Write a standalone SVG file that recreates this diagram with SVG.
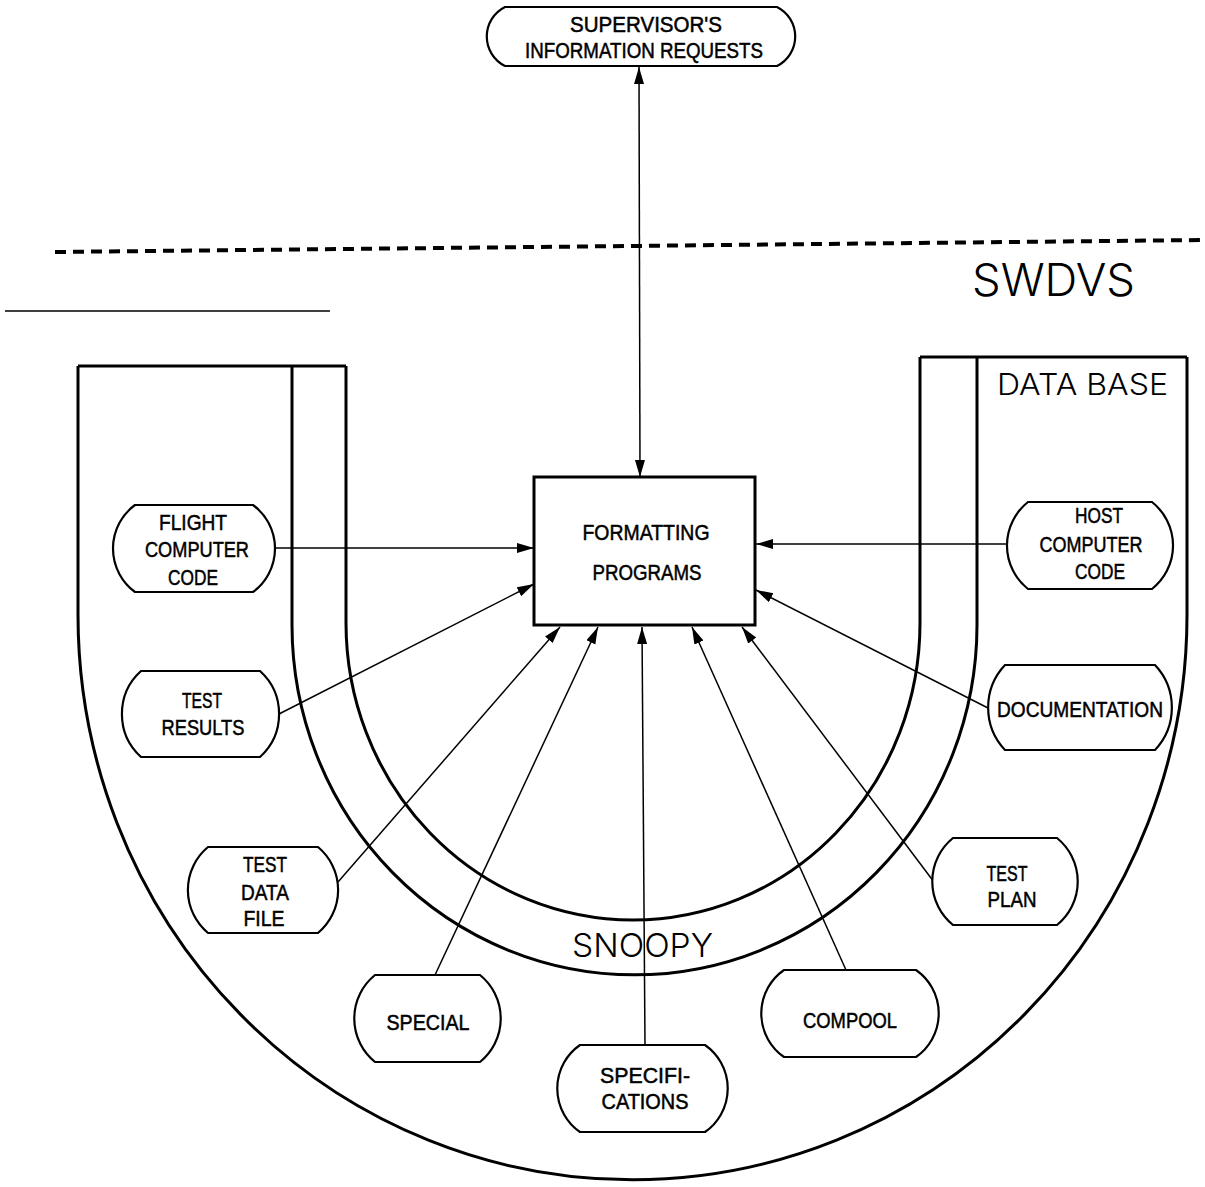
<svg xmlns="http://www.w3.org/2000/svg" width="1205" height="1187" viewBox="0 0 1205 1187">
  <defs>
    <marker id="arrow" markerUnits="userSpaceOnUse" markerWidth="18" markerHeight="11" refX="17" refY="5" orient="auto-start-reverse">
      <path d="M0,0 L17,5 L0,10 Z" fill="#000"/>
    </marker>
    <style>
      .bg { fill: #fff; }
      .node { fill: #fff; stroke: #000; stroke-width: 2.2; }
      .box { fill: #fff; stroke: #000; stroke-width: 3; }
      .band { fill: none; stroke: #000; stroke-width: 3; }
      .link { fill: none; stroke: #000; stroke-width: 1.5; marker-end: url(#arrow); }
      .lbl { font-family: "Liberation Sans", Arial, sans-serif; font-size: 21.5px; fill: #000; stroke: #000; stroke-width: 0.5; text-anchor: middle; }
      .big { font-family: Inter, "Liberation Sans", Arial, sans-serif; font-weight: 300; fill: #000; }
    </style>
  </defs>

  <rect class="bg" x="0" y="0" width="1205" height="1187"/>

  <!-- boundary between supervisor side and SWDVS -->
  <line x1="55" y1="252" x2="1205" y2="240" stroke="#000" stroke-width="4" stroke-dasharray="11 7"/>
  <line x1="5" y1="311" x2="330" y2="311" stroke="#000" stroke-width="1.5"/>
  <text class="big" x="972" y="296" font-size="45" textLength="163" lengthAdjust="spacingAndGlyphs">SWDVS</text>

  <!-- data base and SNOOPY bands -->
  <g id="database-band">
    <path class="band" d="M78,366 V615 A554.5,565 0 0 0 1187,615 V357"/>
    <path class="band" d="M78,366 H346"/>
    <path class="band" d="M920,357 H1187"/>
    <text class="big" x="997" y="395" font-size="30" textLength="171" lengthAdjust="spacingAndGlyphs">DATA BASE</text>
  </g>
  <g id="snoopy-band">
    <path class="band" d="M292,366 V625 A342.5,350 0 0 0 977,625 V357"/>
    <path class="band" d="M346,366 V623 A287,297 0 0 0 920,623 V357"/>
    <text class="big" x="572" y="957" font-size="33" textLength="141" lengthAdjust="spacingAndGlyphs">SNOOPY</text>
  </g>

  <!-- connectors -->
  <g id="connectors">
    <line class="link" x1="639" y1="67" x2="640" y2="477" marker-start="url(#arrow)"/>
    <line class="link" x1="275" y1="548" x2="534" y2="548"/>
    <line class="link" x1="279" y1="714" x2="534" y2="584"/>
    <line class="link" x1="338" y1="882" x2="560" y2="627"/>
    <line class="link" x1="435" y1="975" x2="598" y2="627"/>
    <line class="link" x1="645" y1="1045" x2="642" y2="627"/>
    <line class="link" x1="846" y1="970" x2="692" y2="627"/>
    <line class="link" x1="934" y1="882" x2="742" y2="627"/>
    <line class="link" x1="988" y1="708" x2="756" y2="590"/>
    <line class="link" x1="1007" y1="544" x2="756" y2="544"/>
  </g>

  <!-- nodes -->
  <g id="supervisor-requests">
    <path class="node" d="M505,7 H777 A33,33 0 0 1 777,66 H505 A33,33 0 0 1 505,7 Z"/>
    <text class="lbl" x="646" y="32" textLength="152" lengthAdjust="spacingAndGlyphs">SUPERVISOR'S</text>
    <text class="lbl" x="644" y="58" textLength="238" lengthAdjust="spacingAndGlyphs">INFORMATION REQUESTS</text>
  </g>

  <g id="formatting-programs">
    <rect class="box" x="534" y="477" width="221" height="148"/>
    <text class="lbl" x="646" y="540" font-size="24" textLength="127" lengthAdjust="spacingAndGlyphs">FORMATTING</text>
    <text class="lbl" x="647" y="580" font-size="24" textLength="109" lengthAdjust="spacingAndGlyphs">PROGRAMS</text>
  </g>

  <g id="flight-computer-code">
    <path class="node" d="M135,505 H253 A54,54 0 0 1 253,592 H135 A54,54 0 0 1 135,505 Z"/>
    <text class="lbl" x="193" y="530" textLength="68" lengthAdjust="spacingAndGlyphs">FLIGHT</text>
    <text class="lbl" x="197" y="557" textLength="104" lengthAdjust="spacingAndGlyphs">COMPUTER</text>
    <text class="lbl" x="193" y="585" textLength="50" lengthAdjust="spacingAndGlyphs">CODE</text>
  </g>

  <g id="test-results">
    <path class="node" d="M141,671 H260 A58,58 0 0 1 260,757 H141 A58,58 0 0 1 141,671 Z"/>
    <text class="lbl" x="202" y="708" textLength="40" lengthAdjust="spacingAndGlyphs">TEST</text>
    <text class="lbl" x="203" y="735" textLength="83" lengthAdjust="spacingAndGlyphs">RESULTS</text>
  </g>

  <g id="test-data-file">
    <path class="node" d="M208,847 H318 A56,56 0 0 1 318,933 H208 A56,56 0 0 1 208,847 Z"/>
    <text class="lbl" x="265" y="872" textLength="44" lengthAdjust="spacingAndGlyphs">TEST</text>
    <text class="lbl" x="265" y="900" textLength="48" lengthAdjust="spacingAndGlyphs">DATA</text>
    <text class="lbl" x="264" y="926" textLength="41" lengthAdjust="spacingAndGlyphs">FILE</text>
  </g>

  <g id="special">
    <path class="node" d="M375,975 H480 A56,56 0 0 1 480,1062 H375 A56,56 0 0 1 375,975 Z"/>
    <text class="lbl" x="428" y="1030" textLength="83" lengthAdjust="spacingAndGlyphs">SPECIAL</text>
  </g>

  <g id="specifications">
    <path class="node" d="M580,1045 H705 A53,53 0 0 1 705,1132 H580 A53,53 0 0 1 580,1045 Z"/>
    <text class="lbl" x="645" y="1083" textLength="90" lengthAdjust="spacingAndGlyphs">SPECIFI-</text>
    <text class="lbl" x="645" y="1109" textLength="87" lengthAdjust="spacingAndGlyphs">CATIONS</text>
  </g>

  <g id="compool">
    <path class="node" d="M784,970 H916 A53,53 0 0 1 916,1057 H784 A53,53 0 0 1 784,970 Z"/>
    <text class="lbl" x="850" y="1028" textLength="94" lengthAdjust="spacingAndGlyphs">COMPOOL</text>
  </g>

  <g id="test-plan">
    <path class="node" d="M953,838 H1057 A56,56 0 0 1 1057,925 H953 A56,56 0 0 1 953,838 Z"/>
    <text class="lbl" x="1007" y="881" textLength="41" lengthAdjust="spacingAndGlyphs">TEST</text>
    <text class="lbl" x="1012" y="907" textLength="49" lengthAdjust="spacingAndGlyphs">PLAN</text>
  </g>

  <g id="documentation">
    <path class="node" d="M1005,665 H1155 A62,62 0 0 1 1155,750 H1005 A62,62 0 0 1 1005,665 Z"/>
    <text class="lbl" x="1080" y="717" textLength="166" lengthAdjust="spacingAndGlyphs">DOCUMENTATION</text>
  </g>

  <g id="host-computer-code">
    <path class="node" d="M1028,502 H1152 A55.5,55.5 0 0 1 1152,589 H1028 A55.5,55.5 0 0 1 1028,502 Z"/>
    <text class="lbl" x="1099" y="523" textLength="48" lengthAdjust="spacingAndGlyphs">HOST</text>
    <text class="lbl" x="1091" y="552" textLength="103" lengthAdjust="spacingAndGlyphs">COMPUTER</text>
    <text class="lbl" x="1100" y="579" textLength="50" lengthAdjust="spacingAndGlyphs">CODE</text>
  </g>
</svg>
